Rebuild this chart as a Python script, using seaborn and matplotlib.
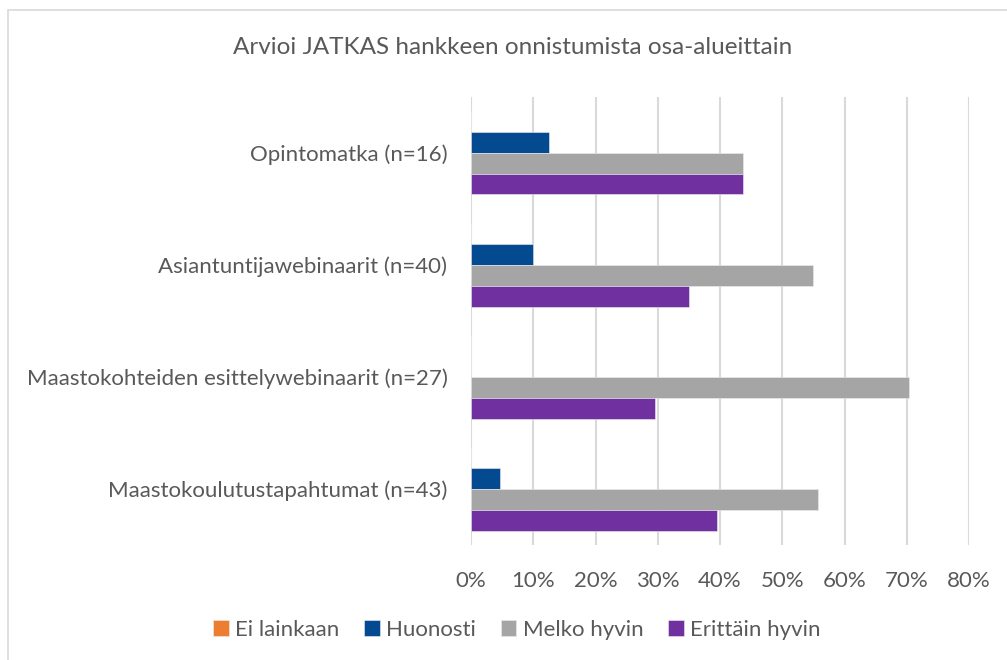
import pandas as pd
import numpy as np
import seaborn as sns
import matplotlib.pyplot as plt
from matplotlib.patches import Rectangle
from matplotlib.ticker import PercentFormatter

categories = ['Opintomatka (n=16)', 'Asiantuntijawebinaarit (n=40)',
              'Maastokohteiden esittelywebinaarit (n=27)', 'Maastokoulutustapahtumat (n=43)']
series = ['Ei lainkaan', 'Huonosti', 'Melko hyvin', 'Erittäin hyvin']
ei_lainkaan = [0.0, 0.0, 0.0, 0.0]
huonosti = [12.5, 10.0, 0.0, 4.65]
melko_hyvin = [43.75, 55.0, 70.37, 55.81]
erittain_hyvin = [43.75, 35.0, 29.63, 39.53]
colors = ['#ED7D31', '#044A91', '#A5A5A5', '#7030A0']

df = pd.DataFrame({
    'kohde': categories * 4,
    'arvio': np.repeat(series, 4),
    'osuus': ei_lainkaan + huonosti + melko_hyvin + erittain_hyvin,
})

sns.set_style('white')
plt.rcParams['font.family'] = ['Lato', 'DejaVu Sans']
txt = '#595959'

fig = plt.figure(figsize=(10.07, 6.6), dpi=100)
ax = fig.add_axes([471 / 1007, 1 - 545 / 660, 498 / 1007, 448.4 / 660])

sns.barplot(data=df, y='kohde', x='osuus', hue='arvio', hue_order=series,
            order=categories, palette=colors, saturation=1, width=0.745, orient='h',
            edgecolor='#EDEDED', linewidth=0.4, ax=ax, legend=True)

ax.set_xlim(0, 80)
ax.set_xticks(range(0, 81, 10))
ax.xaxis.set_major_formatter(PercentFormatter(decimals=0))
ax.grid(axis='x', color='#D9D9D9', linewidth=1.5)
ax.set_axisbelow(True)
for s in ax.spines.values():
    s.set_visible(False)
ax.set_xlabel('')
ax.set_ylabel('')
ax.tick_params(axis='x', length=0, pad=19, labelsize=16, labelcolor=txt)
ax.tick_params(axis='y', length=0, pad=17, labelsize=16, labelcolor=txt)

fig.text(513 / 1007, 1 - 47 / 660, 'Arvioi JATKAS hankkeen onnistumista osa-alueittain',
         ha='center', va='center', fontsize=17.5, color=txt)

handles, labels = ax.get_legend_handles_labels()
ax.legend_.remove()
fig.legend(handles, labels, loc='center', bbox_to_anchor=(517 / 1007, 1 - 630 / 660),
           ncol=4, frameon=False, fontsize=16, labelcolor=txt, handlelength=0.7,
           handleheight=0.7, handletextpad=0.3, columnspacing=1.1)

fig.patches.append(Rectangle((8 / 1007, -0.1), 1.2, 1 - 10 / 660 + 0.1,
                             transform=fig.transFigure, fill=False,
                             edgecolor='#D9D9D9', linewidth=1.2))

fig.savefig('out.png', dpi=100)
